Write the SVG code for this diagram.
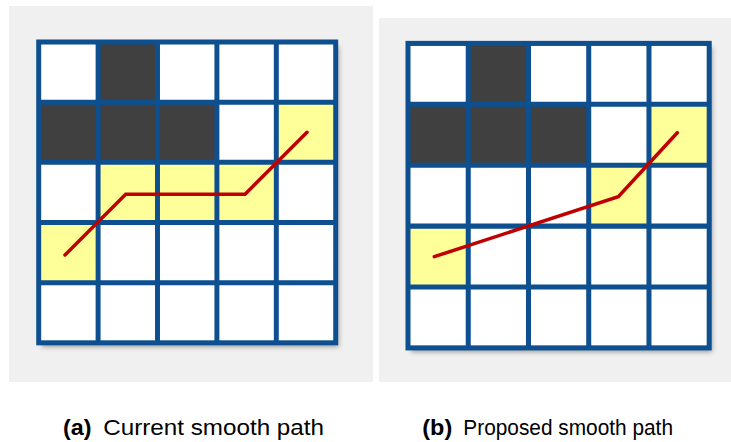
<svg xmlns="http://www.w3.org/2000/svg" width="731" height="442" viewBox="0 0 731 442">
  <defs>
    <style>
      .panel { fill: #f0f0f0; }
      .free { fill: #ffffff; }
      .wall { fill: #404040; }
      .visited { fill: #ffff99; }
      .lines { fill: none; stroke: #0d4f8f; stroke-width: 5; }
      .path { fill: none; stroke: #c00000; stroke-width: 3.5; stroke-linejoin: miter; stroke-linecap: round; }
      .cap { font-family: "Liberation Sans", Arial, sans-serif; font-size: 22px; fill: #000000; }
      .tag { font-weight: bold; }
    </style>
    <filter id="shadow" x="-10%" y="-10%" width="130%" height="130%">
      <feDropShadow dx="3" dy="4" stdDeviation="2.5" flood-color="#000000" flood-opacity="0.35"/>
    </filter>
    <!-- 5x5 grid lines in a 300x300 unit frame -->
    <g id="gridLines" class="lines">
      <rect x="0" y="0" width="300" height="300"/>
      <path d="M60 0V300M120 0V300M180 0V300M240 0V300M0 60H300M0 120H300M0 180H300M0 240H300"/>
    </g>
  </defs>

  <!-- panel backgrounds -->
  <rect class="panel" x="9" y="6" width="364" height="376"/>
  <rect class="panel" x="379" y="18" width="352" height="364"/>

  <!-- (a) current smooth path grid -->
  <g id="gridA" transform="translate(38.7 42) scale(0.99 1.0027)">
    <rect class="free" x="0" y="0" width="300" height="300" filter="url(#shadow)"/>
    <rect class="wall" x="60" y="0" width="60" height="60"/>
    <rect class="wall" x="0" y="60" width="180" height="60"/>
    <rect class="visited" x="240" y="60" width="60" height="60"/>
    <rect class="visited" x="60" y="120" width="180" height="60"/>
    <rect class="visited" x="0" y="180" width="60" height="60"/>
    <use href="#gridLines"/>
  </g>

  <!-- (b) proposed smooth path grid -->
  <g id="gridB" transform="translate(408 43.4) scale(1.004 1.015)">
    <rect class="free" x="0" y="0" width="300" height="300" filter="url(#shadow)"/>
    <rect class="wall" x="60" y="0" width="60" height="60"/>
    <rect class="wall" x="0" y="60" width="180" height="60"/>
    <rect class="visited" x="240" y="60" width="60" height="60"/>
    <rect class="visited" x="180" y="120" width="60" height="60"/>
    <rect class="visited" x="0" y="180" width="60" height="60"/>
    <use href="#gridLines"/>
  </g>

  <!-- smoothed paths -->
  <g id="paths">
    <polyline id="pathA" class="path" points="65,255 125.7,194.3 245,194.3 307,132.3"/>
    <polyline id="pathB" class="path" points="434.3,256.7 618.3,196.7 677.3,132.7"/>
  </g>

  <!-- captions -->
  <g id="captionA" class="cap">
    <text x="63" y="435" class="tag" textLength="28.5" lengthAdjust="spacingAndGlyphs">(a)</text>
    <text x="103.3" y="435" textLength="220.7" lengthAdjust="spacingAndGlyphs">Current smooth path</text>
  </g>
  <g id="captionB" class="cap">
    <text x="422.3" y="435" class="tag" textLength="30" lengthAdjust="spacingAndGlyphs">(b)</text>
    <text x="463.3" y="435" textLength="209.7" lengthAdjust="spacingAndGlyphs">Proposed smooth path</text>
  </g>
</svg>
